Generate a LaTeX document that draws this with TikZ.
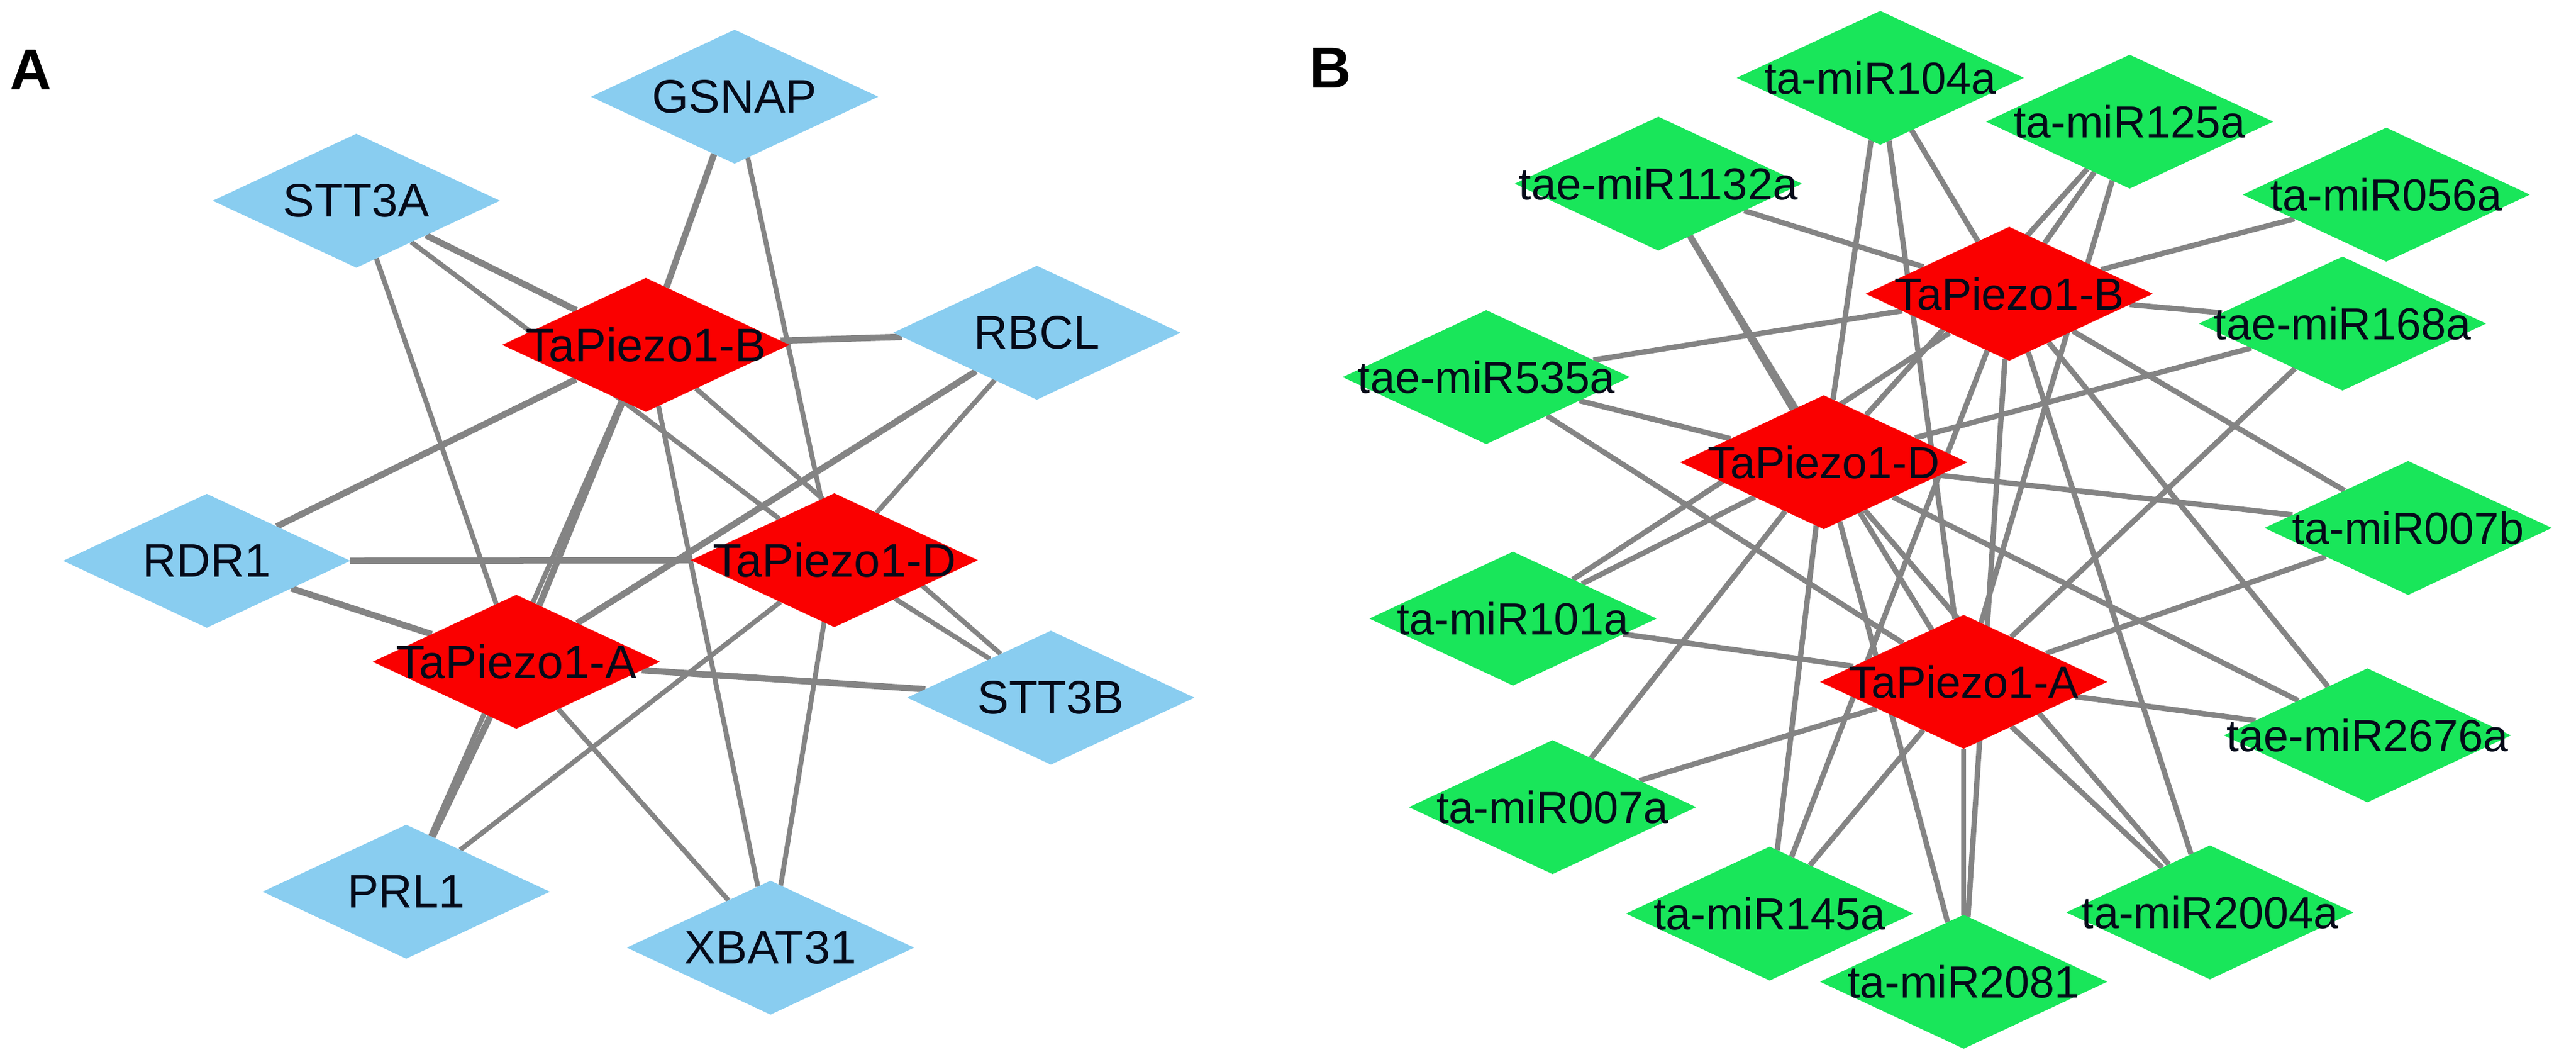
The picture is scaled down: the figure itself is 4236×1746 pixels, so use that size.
\documentclass[tikz,border=0pt]{standalone}
\usepackage{fontspec}
\setmainfont{Liberation Sans}
\usetikzlibrary{shapes.geometric}
\pgfdeclarelayer{background}
\pgfsetlayers{background,main}
\definecolor{edgegray}{RGB}{132,132,132}
\definecolor{gblue}{RGB}{137,205,240}
\definecolor{gred}{RGB}{250,0,0}
\definecolor{ggreen}{RGB}{25,230,90}
\definecolor{lbltext}{RGB}{5,10,25}
\tikzset{
  dnode/.style={shape=diamond, minimum width=4.72cm, minimum height=2.2cm,
    inner sep=0pt, outer sep=0pt, aspect=2.15},
  lbla/.style={font=\fontsize{22}{25}\selectfont, text=lbltext, inner sep=0pt},
  lblb/.style={font=\fontsize{21}{24}\selectfont, text=lbltext, inner sep=0pt},
  gene/.style={dnode, fill=gblue, label={[lbla]center:#1}},
  piezoa/.style={dnode, fill=gred, label={[lbla]center:#1}},
  piezob/.style={dnode, fill=gred, label={[lblb]center:#1}},
  mirna/.style={dnode, fill=ggreen, label={[lblb]center:#1}},
  wedge/.style={draw=edgegray, line width=0.105cm},
  nedge/.style={draw=edgegray, line width=0.08cm},
  bedge/.style={draw=edgegray, line width=0.088cm},
  panel/.style={font=\fontsize{27}{30}\selectfont\bfseries, inner sep=0pt}
}
\begin{document}
\begin{tikzpicture}[x=0.01cm, y=-0.01cm]
\useasboundingbox (0,0) rectangle (4236,1746);

% ---------- Panel A ----------
\node[panel] (labA) at (51,115) {A};
\node[gene=GSNAP]   (gsnap) at (1208,159) {};
\node[gene=STT3A]   (stta)  at (586,330)  {};
\node[piezoa=TaPiezo1-B] (pb) at (1062,567) {};
\node[gene=RBCL]    (rbcl)  at (1705,547) {};
\node[gene=RDR1]    (rdr)   at (340,922)  {};
\node[piezoa=TaPiezo1-D] (pd) at (1372,921) {};
\node[piezoa=TaPiezo1-A] (pa) at (849,1088) {};
\node[gene=STT3B]   (sttb)  at (1728,1147) {};
\node[gene=PRL1]    (prl)   at (668,1466) {};
\node[gene=XBAT31]  (xbat)  at (1267,1558) {};

% ---------- Panel B ----------
\node[panel] (labB) at (2188,112) {B};
\node[mirna=ta-miR104a]   (m104)  at (3092,128) {};
\node[mirna=ta-miR125a]   (m125)  at (3502,200) {};
\node[mirna=tae-miR1132a] (m1132) at (2727,302) {};
\node[mirna=ta-miR056a]   (m056)  at (3924,320) {};
\node[mirna=tae-miR168a]  (m168)  at (3852,532) {};
\node[mirna=tae-miR535a]  (m535)  at (2444,620) {};
\node[piezob=TaPiezo1-B]  (pbB)   at (3304,483) {};
\node[piezob=TaPiezo1-D]  (pdB)   at (2999,760) {};
\node[mirna=ta-miR007b]   (m007b) at (3960,868) {};
\node[mirna=ta-miR101a]   (m101)  at (2488,1017) {};
\node[piezob=TaPiezo1-A]  (paB)   at (3229,1121) {};
\node[mirna=tae-miR2676a] (m2676) at (3893,1209) {};
\node[mirna=ta-miR007a]   (m007a) at (2553,1327) {};
\node[mirna=ta-miR145a]   (m145)  at (2910,1502) {};
\node[mirna=ta-miR2004a]  (m2004) at (3634,1500) {};
\node[mirna=ta-miR2081]   (m2081) at (3229,1614) {};

\begin{pgfonlayer}{background}
  \fill[white] (0,0) rectangle (4236,1746);
  % panel A, heavier edges
  \foreach \a/\b in {gsnap/pb, stta/pb, rdr/pb, rdr/pd, rdr/pa, rbcl/pb,
                     rbcl/pa, sttb/pa, pb/pa, pa/prl}
    \draw[wedge] (\a) -- (\b);
  % panel A, lighter edges
  \foreach \a/\b in {gsnap/pd, stta/pa, stta/pd, pb/xbat, pb/sttb,
                     pd/sttb, pd/prl, pd/xbat, pa/xbat, rbcl/pd, pb/prl}
    \draw[nedge] (\a) -- (\b);
  % panel B
  \foreach \m in {m104, m125, m1132, m168, m535, m007b, m101, m2676,
                  m007a, m145, m2004, m2081} {
    \draw[bedge] (\m) -- (paB);
    \draw[bedge] (\m) -- (pdB);
  }
  \foreach \m in {m104, m125, m1132, m168, m535, m007b, m101, m2676,
                  m145, m2004, m2081, m056}
    \draw[bedge] (\m) -- (pbB);
\end{pgfonlayer}
\end{tikzpicture}
\end{document}
